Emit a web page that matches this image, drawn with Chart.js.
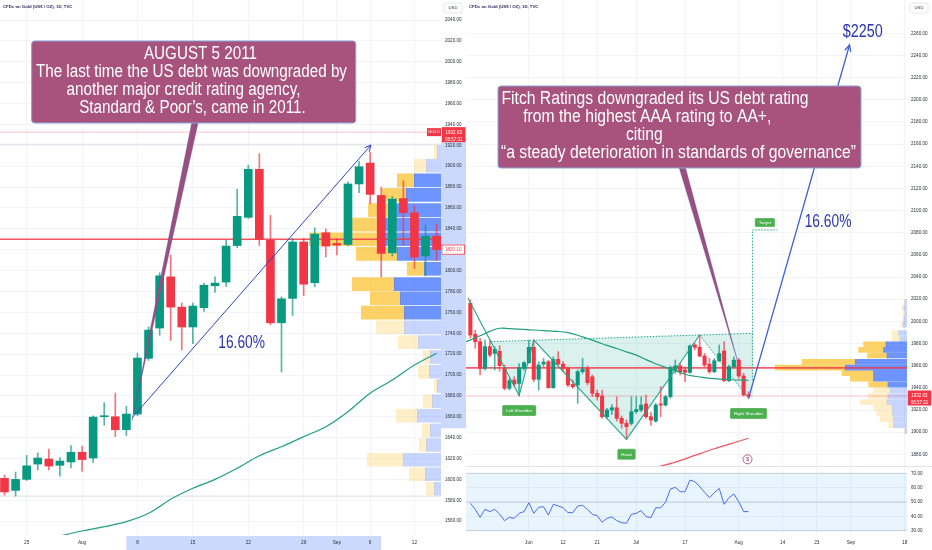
<!DOCTYPE html>
<html>
<head>
<meta charset="utf-8">
<title>Gold 2011 vs 2023</title>
<script src="https://cdn.jsdelivr.net/npm/chart.js@4.4.1/dist/chart.umd.min.js"></script>
<style>
  html, body { margin: 0; padding: 0; background: #fff; }
  #wrap { position: relative; width: 932px; height: 550px; overflow: hidden; }
  #wrap canvas { position: absolute; }
</style>
</head>
<body>
<div id="wrap">
  <canvas id="goldLeft" width="466" height="550" style="left:0;top:0"></canvas>
  <canvas id="goldRight" width="466" height="466" style="left:466px;top:0"></canvas>
  <canvas id="goldRsi" width="466" height="84" style="left:466px;top:466px"></canvas>
</div>
<script>
// ---------- 2011 panel (bar 0 = 21 Jul 2011) ----------
const leftDates = ['25', 'Aug', '8', '15', '22', '29', 'Sep', '6', '12'];
const leftDateIdx = [2, 7, 12, 17, 22, 27, 30, 33, 37];
const leftOpen = [1601, 1589.5, 1600, 1614.7, 1619.5, 1613.5, 1616.7, 1626, 1620.5, 1660,
  1660, 1647.6, 1662.6, 1716, 1745, 1794, 1765, 1746, 1764.5, 1785.5,
  1789, 1824, 1851, 1897, 1829, 1750, 1773.4, 1827.4, 1788.4, 1836.3,
  1826, 1825, 1883, 1903, 1872, 1817, 1869, 1855.4, 1814, 1833];
const leftHigh = [1604, 1607, 1623, 1625.5, 1629, 1621, 1632.5, 1632, 1661, 1673.5,
  1682.7, 1670, 1721, 1746, 1798, 1815, 1769, 1769, 1788, 1794,
  1829, 1878, 1901, 1912, 1853, 1775, 1831, 1831, 1841, 1840,
  1831, 1885, 1905, 1913, 1880, 1871, 1886, 1862, 1843.6, 1844.6];
const leftLow = [1585, 1584, 1599, 1609, 1609, 1603, 1611, 1608, 1616, 1652,
  1641, 1642, 1661, 1714, 1738, 1733, 1724, 1730, 1761, 1779,
  1784.5, 1822, 1850, 1824, 1748, 1703, 1757, 1776, 1784.5, 1813,
  1815, 1824, 1874.6, 1864, 1794, 1814, 1824.5, 1802, 1795, 1809.5];
const leftClose = [1588, 1600, 1613, 1620.5, 1612.8, 1617.6, 1626, 1619, 1659.7, 1661,
  1647.6, 1662.6, 1716.2, 1743, 1795, 1765, 1746, 1766, 1786, 1788,
  1823.5, 1852, 1897, 1830, 1750, 1773, 1827.4, 1787, 1835, 1823.5,
  1824.5, 1883, 1899.5, 1873, 1816.5, 1868.5, 1855.4, 1813, 1833, 1820.1];
const leftMaIdx = [5, 7, 9, 11, 13, 15, 17, 19, 21, 23, 25, 27, 29, 31, 33, 35, 37, 39];
const leftMaVal = [1545.8, 1550.6, 1554.7, 1559.5, 1567.5, 1581, 1591.5, 1600, 1610.6,
  1622.7, 1631.3, 1641, 1650.5, 1664.9, 1682.5, 1695.2, 1709.6, 1720.8];
const leftLevels = [1830, 1932.63, 1921, 1584];
const leftArrowIdx = [11.5, 33.08];
const leftArrowPrice = [1658.8, 1920.3];
const leftPriceTicks = [1560, 1580, 1600, 1620, 1640, 1660, 1680, 1700, 1720, 1740, 1760, 1780,
  1800, 1820, 1840, 1860, 1880, 1900, 1920, 1940, 1960, 1980, 2000, 2020, 2040];
// volume profile: row price, up volume, down volume, inside value area
const leftVpPrice = [1913.5, 1900.5, 1886.5, 1872.5, 1858, 1844, 1830, 1816, 1801.7, 1787,
  1773.5, 1759.8, 1745.7, 1731.5, 1717.3, 1703.2, 1689.5, 1675, 1661, 1647, 1633, 1618.8, 1605, 1591];
const leftVpUp = [3.7, 14.7, 26.7, 34.7, 46.7, 56.7, 61.7, 43.7, 16.7, 46.7,
  40.7, 36.7, 36.7, 22.7, 10.7, 11.7, 3.7, 8.7, 23.7, 10.7, 14.7, 37.7, 15.7, 6.7];
const leftVpDown = [3, 12, 17, 24, 26, 32, 70, 41, 17, 42,
  30, 43, 28, 20, 7, 11, 3, 9, 21, 8, 7, 36, 16, 8];
const leftVpInVA = [0, 0, 1, 1, 1, 1, 1, 1, 1, 1, 1, 1, 0, 0, 0, 0, 0, 0, 0, 0, 0, 0, 0, 0];

// ---------- 2023 panel (bar 0 = 1 Jun 2023) ----------
const rightFirst = -12;
const rightDates = ['Jun', '12', '21', 'Jul', '17', 'Aug', '14', '23', 'Sep', '18'];
const rightDateIdx = [0, 7, 14, 22, 32, 43, 52, 59, 66, 77];
const rightOpen = [2016.3, 1988.3, 1981.7, 1957.6, 1977.2, 1971.1, 1973, 1957.6, 1939.6, 1947.1,
  1944, 1957.6, 1962.7, 1976.6, 1947.7, 1961.5, 1963.6, 1940.2, 1965.7, 1961.5,
  1957.6, 1943.2, 1942.6, 1954.6, 1957.6, 1950, 1935, 1932.6, 1914, 1920,
  1922, 1912.5, 1908, 1908, 1918.5, 1920, 1925.5, 1914, 1910, 1925.5,
  1924.5, 1932, 1955.5, 1959.7, 1956.1, 1954, 1978.7, 1976.6, 1968.7, 1961.5,
  1954.6, 1964.5, 1973.3, 1946.5, 1959, 1965, 1950.7, 1933.8];
const rightHigh = [2019.3, 1992, 1984.7, 1983.2, 1983.2, 1977.2, 1978, 1960.6, 1948.6, 1950,
  1962, 1963.6, 1983.2, 1983.2, 1963.6, 1966.6, 1965, 1968, 1972.7, 1963.6,
  1959, 1947.1, 1956.1, 1966.6, 1959.7, 1951.6, 1938, 1938, 1921.5, 1925,
  1932, 1914.6, 1911, 1932, 1932, 1932, 1933.5, 1918, 1926, 1941,
  1933.5, 1959.7, 1965.2, 1962, 1959, 1978.7, 1980.2, 1987.7, 1971.1, 1966.6,
  1966.6, 1978.7, 1981.7, 1960.6, 1968, 1966.6, 1953, 1936.5];
const rightLow = [1985, 1975.7, 1951.6, 1956, 1968, 1956.1, 1955, 1938, 1938, 1941,
  1933, 1956, 1962, 1945.6, 1938, 1959, 1939.6, 1939.6, 1960.6, 1954.6,
  1941, 1939.6, 1926, 1953, 1942.6, 1932, 1929, 1912.5, 1912.5, 1916,
  1910, 1903.5, 1893.5, 1906.5, 1917, 1918.5, 1912.5, 1906, 1909, 1914,
  1923.5, 1930.5, 1953, 1951.6, 1945.6, 1953, 1974.2, 1968, 1959, 1953,
  1953.7, 1963.6, 1945.6, 1945.6, 1958.5, 1948.6, 1932.6, 1930.5];
const rightClose = [1987.7, 1981.7, 1957.6, 1977.2, 1969.6, 1974.8, 1960, 1939.6, 1946.5, 1943.5,
  1958.2, 1962.7, 1976.6, 1947.7, 1960.6, 1963.3, 1940.2, 1965.7, 1961.5, 1957.6,
  1942.6, 1941, 1954.6, 1957, 1944.7, 1935, 1932, 1914, 1920, 1922,
  1912.5, 1908, 1905, 1918.5, 1920.5, 1924.5, 1914, 1911, 1924.5, 1924.5,
  1932, 1958.5, 1959.7, 1954.6, 1954, 1977.8, 1976.6, 1968.7, 1960.6, 1954.6,
  1964.5, 1971, 1946.5, 1959, 1965, 1950.7, 1933.5, 1932.63];
const rightMaIdx = [-12.9, -10, -8, -6, -4, -2, 0, 2, 4, 6, 8, 10, 12, 14, 16, 18, 20, 22, 24,
  26, 28, 30, 32, 34, 36, 38, 40, 42, 45];
const rightMaVal = [1981.6, 1987, 1991, 1993.8, 1993.5, 1993, 1992.4, 1992, 1991.4, 1990.9,
  1989.8, 1987.5, 1984.5, 1981.5, 1978.3, 1975.5, 1972.5, 1969.5, 1965.5, 1961.8,
  1958.5, 1955.5, 1952.3, 1950.5, 1949.3, 1948.3, 1947.6, 1947.1, 1946.8];
const rightMa2Idx = [26, 30, 34, 38, 42, 45];
const rightMa2Val = [1868, 1873, 1879, 1885, 1890.5, 1894.5];
const rsiValues = [49.1, 44.9, 39.3, 44.9, 43.3, 44.9, 41.6, 37, 39.3, 38.6,
  42.1, 43.3, 49.5, 42.1, 46.3, 46.7, 40.9, 48.4, 47.2, 46,
  42.6, 42.6, 47.2, 47.7, 44.9, 41.4, 40.5, 35.9, 38.6, 39.6,
  37, 35.6, 35.2, 41.4, 42.1, 44, 39.8, 39.1, 46, 46,
  49.8, 59.1, 60.2, 57.2, 57.2, 65.3, 64.2, 60.7, 56.8, 53,
  56.5, 59.5, 48.4, 53, 55.6, 50.2, 43.3, 43.3];
const rightLevels = [1958, 1932.63];
const hsIdx = [-12.5, -2, 1, 20, 35, 45];
const hsPrice = [2021, 1933, 1983, 1893.5, 1987.7, 1930.5];
const neckIdx = [-7.8, 45.9];
const neckPrice = [1981.7, 1989.2];
const targetIdx = [45.8, 45.8, 50.9];
const targetPrice = [1947, 2082.5, 2082.5];
const rightArrowIdx = [45, 65.7];
const rightArrowPrice = [1930.5, 2249.4];
const rightPriceTicks = [1880, 1900, 1920, 1940, 1960, 1980, 2000, 2020, 2040, 2060, 2080,
  2100, 2120, 2140, 2160, 2180, 2200, 2220, 2240, 2260];
const rsiTicks = [30, 40, 50, 60, 70];
const rightVpPrice = [2017.5, 2012.3, 2007, 2002, 1997, 1989.5, 1984.2, 1979.3, 1974.3, 1969.2,
  1963.5, 1958.3, 1953.3, 1948.2, 1943, 1937.8, 1932.4, 1927.1, 1922, 1916.7, 1911.5, 1906.2, 1900.8];
const rightVpUp = [2, 3, 2, 3, 4, 8.4, 7, 21, 23.4, 20, 51.7, 61.7, 33.4, 33.4, 19,
  16.7, 19, 20, 15, 14.4, 13.4, 13.4, 1.5];
const rightVpDown = [1, 2, 2, 1, 2, 6.6, 8, 22.4, 25, 19.4, 53.3, 70, 31.6, 23.3, 19.4,
  16.7, 19.4, 26.7, 18.4, 15.6, 13.3, 5, 1.5];
const rightVpInVA = [0, 0, 0, 0, 0, 0, 0, 1, 1, 1, 1, 1, 1, 1, 1, 0, 0, 0, 0, 0, 0, 0, 0];

// ---------- look ----------
const LEFT_X = [-0.406, 39.395], LEFT_Y = [1546.75, 2059.2];
const RIGHT_X = [-12.889, 77.48], RIGHT_Y = [1869.47, 2290.05], RSI_Y = [27, 75.1];
const UP = '#089981', DOWN = '#f23645';
const GRID = '#f2f4f9', TXT = '#2a2e39', AXIS_HI = '#cbd9fc';
const SANS = '"Liberation Sans", "DejaVu Sans", sans-serif';
const NOTE_BG = '#a8537d', PCT_BLUE = '#2b34b0';

function candleSets(first, open, high, low, close, bodyW) {
  const idx = open.map((_, n) => first + n);
  const body = open.map((o, n) => close[n] >= o ? UP : DOWN);
  const wick = open.map((o, n) => close[n] >= o ? 'rgba(8,153,129,0.7)' : 'rgba(242,54,69,0.7)');
  return [
    { type: 'bar', data: idx.map((x, n) => ({ x: x, y: [open[n], close[n]] })), backgroundColor: body,
      barThickness: bodyW, grouped: false, minBarLength: 1, borderWidth: 0, order: 2 },
    { type: 'bar', data: idx.map((x, n) => ({ x: x, y: [low[n], high[n]] })), backgroundColor: wick,
      barThickness: 1, grouped: false, borderWidth: 0, order: 3 }
  ];
}

function profileSets(price, up, down, inVA, thick) {
  return [
    { type: 'bar', indexAxis: 'y', xAxisID: 'xv', grouped: false, barThickness: thick, borderWidth: 0, order: 6,
      data: price.map((p, n) => ({ y: p, x: [0, up[n]] })),
      backgroundColor: inVA.map(v => v ? 'rgba(41,98,255,0.68)' : 'rgba(41,98,255,0.26)') },
    { type: 'bar', indexAxis: 'y', xAxisID: 'xv', grouped: false, barThickness: thick, borderWidth: 0, order: 6,
      data: price.map((p, n) => ({ y: p, x: [up[n], up[n] + down[n]] })),
      backgroundColor: inVA.map(v => v ? 'rgba(251,192,45,0.72)' : 'rgba(251,192,45,0.26)') }
  ];
}

function line(xs, ys, color, width, extra) {
  return Object.assign({ type: 'line', data: xs.map((x, n) => ({ x: x, y: ys[n] })), borderColor: color,
    borderWidth: width, pointRadius: 0, fill: false, order: 1 }, extra || {});
}

function level(price, xr, color, width) {
  return line(xr, [price, price], color, width, { order: 4 });
}

function chartOptions(xr, yr, xTicks, xLabels, yTicks, showX) {
  return {
    responsive: false, animation: false, events: [], devicePixelRatio: 1,
    layout: { padding: 0 },
    plugins: { legend: { display: false }, tooltip: { enabled: false } },
    elements: { point: { radius: 0 } },
    scales: {
      x: {
        type: 'linear', min: xr[0], max: xr[1], offset: false,
        grid: { color: GRID, drawTicks: false, offset: false }, border: { display: false },
        afterBuildTicks: s => { s.ticks = xTicks.map(v => ({ value: v })); },
        ticks: { display: showX, autoSkip: false, maxRotation: 0, padding: 5, color: TXT,
          font: { size: 4.7, family: SANS }, callback: (v, n) => xLabels[n] },
        afterFit: s => { s.height = showX ? 15 : 0; s.paddingLeft = 0; s.paddingRight = 0; }
      },
      xv: { type: 'linear', axis: 'x', display: false, reverse: true, min: 0, max: 441, offset: false },
      y: {
        type: 'linear', position: 'right', min: yr[0], max: yr[1], offset: false,
        grid: { color: GRID, drawTicks: false, offset: false }, border: { display: false },
        afterBuildTicks: s => { s.ticks = yTicks.map(v => ({ value: v })); },
        ticks: { padding: 4, color: TXT, font: { size: 4.6, family: SANS }, callback: v => v.toFixed(2) },
        afterFit: s => { s.width = 25; s.paddingTop = 0; s.paddingBottom = 0; }
      }
    }
  };
}

// ---------- canvas helpers ----------
function rr(ctx, x, y, w, h, r) {
  ctx.beginPath();
  ctx.moveTo(x + r, y);
  ctx.arcTo(x + w, y, x + w, y + h, r);
  ctx.arcTo(x + w, y + h, x, y + h, r);
  ctx.arcTo(x, y + h, x, y, r);
  ctx.arcTo(x, y, x + w, y, r);
  ctx.closePath();
}

function toPx(chart, x, y) {
  return [chart.scales.x.getPixelForValue(x), chart.scales.y.getPixelForValue(y)];
}

// condensed look: draw the text squeezed horizontally to the width it has in the picture
function squeezeText(ctx, text, x, y, k) {
  ctx.save();
  ctx.translate(x, y);
  ctx.scale(k, 1);
  ctx.fillText(text, 0, 0);
  ctx.restore();
}

function arrowHead(chart, xs, ys, color, width) {
  const ctx = chart.ctx;
  const [x0, y0] = toPx(chart, xs[0], ys[0]);
  const [x1, y1] = toPx(chart, xs[1], ys[1]);
  const ang = Math.atan2(y1 - y0, x1 - x0), h = 7;
  ctx.save();
  ctx.strokeStyle = color; ctx.lineWidth = width;
  ctx.beginPath();
  ctx.moveTo(x1 - h * Math.cos(ang - 0.45), y1 - h * Math.sin(ang - 0.45));
  ctx.lineTo(x1, y1);
  ctx.lineTo(x1 - h * Math.cos(ang + 0.45), y1 - h * Math.sin(ang + 0.45));
  ctx.stroke();
  ctx.restore();
}

function bigText(chart, text, at, width, color) {
  const ctx = chart.ctx;
  const [x, y] = toPx(chart, at[0], at[1]);
  ctx.save();
  ctx.font = '18px ' + SANS;
  ctx.fillStyle = color; ctx.textAlign = 'center'; ctx.textBaseline = 'middle';
  squeezeText(ctx, text, x, y, width / ctx.measureText(text).width);
  ctx.restore();
}

function callout(chart, c) {
  const ctx = chart.ctx;
  const [x0, y0] = toPx(chart, c.box[0], c.box[1]);
  const [x1, y1] = toPx(chart, c.box[2], c.box[3]);
  const [sx] = toPx(chart, c.stem, c.box[3]);
  const [tx, ty] = toPx(chart, c.tip[0], c.tip[1]);
  ctx.save();
  ctx.beginPath();
  ctx.moveTo(sx - 3.2, y1 - 1);
  ctx.lineTo(sx + 3.2, y1 - 1);
  ctx.lineTo(tx, ty);
  ctx.closePath();
  ctx.fillStyle = '#9b4f80'; ctx.fill();
  ctx.strokeStyle = 'rgba(80,80,160,0.55)'; ctx.lineWidth = 0.6; ctx.stroke();
  rr(ctx, x0, y0, x1 - x0, y1 - y0, 3);
  ctx.fillStyle = NOTE_BG; ctx.fill();
  ctx.strokeStyle = '#88a3d4'; ctx.lineWidth = 1; ctx.stroke();
  ctx.font = '18px ' + SANS;
  const k = c.fitWidth / ctx.measureText(c.lines[c.fitLine]).width;
  ctx.fillStyle = '#fff'; ctx.textAlign = 'center'; ctx.textBaseline = 'middle';
  c.lines.forEach((t, n) => squeezeText(ctx, t, x0 + c.centers[n], y0 + 13.5 + 18 * n, k));
  ctx.restore();
}

function greenTag(ctx, cx, cy, text, h) {
  ctx.save();
  ctx.font = '4.4px ' + SANS;
  const w = ctx.measureText(text).width + 8;
  rr(ctx, cx - w / 2, cy - h / 2, w, h, 1.5);
  ctx.fillStyle = '#4caf50'; ctx.fill();
  ctx.strokeStyle = 'rgba(255,255,255,0.6)'; ctx.lineWidth = 0.5; ctx.stroke();
  ctx.fillStyle = '#fff'; ctx.textAlign = 'center'; ctx.textBaseline = 'middle';
  ctx.fillText(text, cx, cy + 0.3);
  ctx.restore();
}

function header(ctx, right) {
  ctx.save();
  ctx.font = 'bold 4.3px ' + SANS;
  ctx.fillStyle = '#2a2e5c'; ctx.textBaseline = 'middle'; ctx.textAlign = 'left';
  ctx.fillText('CFDs on Gold (US$ / OZ), 1D, TVC', 3, 7);
  rr(ctx, right + 3, 3, 18, 10, 2);
  ctx.fillStyle = '#fff'; ctx.fill();
  ctx.strokeStyle = '#dfe2ea'; ctx.lineWidth = 0.8; ctx.stroke();
  ctx.font = '4.2px ' + SANS;
  ctx.fillStyle = TXT; ctx.textAlign = 'center';
  ctx.fillText('USD', right + 12, 8.2);
  ctx.restore();
}

function priceTag(ctx, x, py, lines, fill, stroke, color) {
  ctx.save();
  const h = lines.length > 1 ? 15 : 10;
  ctx.fillStyle = fill; ctx.fillRect(x, py - 5, 23.5, h);
  if (stroke) { ctx.strokeStyle = stroke; ctx.lineWidth = 0.8; ctx.strokeRect(x + 0.4, py - 4.6, 22.7, h - 0.8); }
  ctx.font = '4.5px ' + SANS;
  ctx.fillStyle = color; ctx.textAlign = 'center'; ctx.textBaseline = 'middle';
  lines.forEach((t, n) => ctx.fillText(t, x + 11.75, py + 0.2 + 7 * n));
  ctx.restore();
}

function whiteBg(chart) {
  const ctx = chart.ctx;
  ctx.save(); ctx.fillStyle = '#fff'; ctx.fillRect(0, 0, chart.width, chart.height); ctx.restore();
}

// ---------- annotations ----------
const leftNote = {
  box: [2.45, 2019.9, 31.7, 1941.4], stem: 17.2, tip: [11.5, 1656],
  lines: ['AUGUST 5 2011', 'The last time the US debt was downgraded by',
    'another major credit rating agency,', 'Standard & Poor\u2019s, came in 2011.'],
  centers: [168.8, 159.8, 151.8, 160.8], fitLine: 1, fitWidth: 311
};
const rightNote = {
  box: [-6.33, 2212.43, 68.05, 2138.43], stem: 31.4, tip: [42.8, 1963.6],
  lines: ['Fitch Ratings downgraded its US debt rating', 'from the highest AAA rating to AA+,',
    'citing', '\u201ca steady deterioration in standards of governance\u201d'],
  centers: [157, 149.3, 146.3, 180.5], fitLine: 3, fitWidth: 355
};

const leftPlugin = {
  id: 'leftNotes',
  beforeDraw(chart) {
    whiteBg(chart);
    const ctx = chart.ctx, a = chart.chartArea;
    const [bx0] = toPx(chart, 11, 0), [bx1] = toPx(chart, 34, 0);
    const [, yt] = toPx(chart, 0, 1928), [, yb] = toPx(chart, 0, 1649);
    ctx.save();
    ctx.fillStyle = AXIS_HI;
    ctx.fillRect(bx0, a.bottom + 1, bx1 - bx0, 14);
    ctx.fillRect(a.right, yt, chart.width - a.right, yb - yt);
    ctx.restore();
  },
  afterDraw(chart) {
    const ctx = chart.ctx, a = chart.chartArea;
    arrowHead(chart, leftArrowIdx, leftArrowPrice, '#3344c0', 1);
    bigText(chart, '16.60%', [21.4, 1730.7], 46.7, PCT_BLUE);
    callout(chart, leftNote);
    header(ctx, a.right);
    const pyNow = chart.scales.y.getPixelForValue(1932.63);
    ctx.save();
    ctx.fillStyle = DOWN; ctx.fillRect(a.right - 14, pyNow - 4, 14, 8);
    ctx.font = '4.2px ' + SANS; ctx.fillStyle = '#fff'; ctx.textAlign = 'center'; ctx.textBaseline = 'middle';
    ctx.fillText('GOLD', a.right - 7, pyNow + 0.2);
    ctx.restore();
    priceTag(ctx, a.right + 1, pyNow, ['1932.63', '08:57:31'], DOWN, null, '#fff');
    priceTag(ctx, a.right + 0.5, chart.scales.y.getPixelForValue(1820.1), ['1820.10'], '#fff', DOWN, DOWN);
  }
};

const rightPlugin = {
  id: 'rightNotes',
  beforeDraw: whiteBg,
  afterDraw(chart) {
    const ctx = chart.ctx, a = chart.chartArea;
    arrowHead(chart, rightArrowIdx, rightArrowPrice, '#3d5fd9', 1.3);
    bigText(chart, '16.60%', [61.3, 2089.7], 46.7, PCT_BLUE);
    bigText(chart, '$2250', [68.4, 2260.7], 40, PCT_BLUE);
    callout(chart, rightNote);
    const names = [[1, 'Left Shoulder'], [3, 'Head'], [5, 'Right Shoulder']];
    names.forEach(([n, t]) => {
      const [x, y] = toPx(chart, hsIdx[n], hsPrice[n]);
      greenTag(ctx, x, y + 15, t, 11);
    });
    const [tx, ty] = toPx(chart, targetIdx[1], targetPrice[1]);
    greenTag(ctx, tx + 12.5, ty - 7.5, 'Target', 9);
    const [ex, ey] = toPx(chart, 44.8, 1875.5);
    ctx.save();
    ctx.beginPath(); ctx.arc(ex, ey, 4.5, 0, Math.PI * 2);
    ctx.fillStyle = '#fff'; ctx.fill();
    ctx.strokeStyle = '#a94f86'; ctx.lineWidth = 0.9; ctx.stroke();
    ctx.font = 'bold 5px ' + SANS; ctx.fillStyle = '#a94f86'; ctx.textAlign = 'center'; ctx.textBaseline = 'middle';
    ctx.fillText('$', ex, ey + 0.3);
    ctx.restore();
    header(ctx, a.right);
    priceTag(ctx, a.right + 0.7, chart.scales.y.getPixelForValue(1932.63) - 0.5, ['1932.63', '08:57:31'], DOWN, null, '#fff');
  }
};

const rsiPlugin = {
  id: 'rsiFrame',
  beforeDraw: whiteBg,
  afterDraw(chart) {
    const ctx = chart.ctx;
    ctx.save();
    ctx.strokeStyle = '#e0e3eb'; ctx.lineWidth = 1;
    ctx.beginPath(); ctx.moveTo(0, 0.5); ctx.lineTo(chart.width, 0.5); ctx.stroke();
    ctx.restore();
  }
};

// ---------- charts ----------
new Chart(document.getElementById('goldLeft'), {
  type: 'line',
  data: {
    datasets: [
      line(leftArrowIdx, leftArrowPrice, '#3344c0', 1, { order: 0 }),
      line(leftMaIdx, leftMaVal, '#1f9f7c', 1.2, { tension: 0.35 }),
      ...candleSets(0, leftOpen, leftHigh, leftLow, leftClose, 8),
      level(leftLevels[0], LEFT_X, 'rgba(242,54,69,0.85)', 1.6),
      level(leftLevels[1], LEFT_X, 'rgba(242,54,69,0.3)', 1),
      level(leftLevels[2], LEFT_X, '#dcdfe6', 1),
      level(leftLevels[3], LEFT_X, '#dcdfe6', 1),
      ...profileSets(leftVpPrice, leftVpUp, leftVpDown, leftVpInVA, 13)
    ]
  },
  options: chartOptions(LEFT_X, LEFT_Y, leftDateIdx, leftDates, leftPriceTicks, true),
  plugins: [leftPlugin]
});

const hsPts = hsIdx.map((x, n) => ({ x: x, y: hsPrice[n] }));
const hsShape = [{ x: neckIdx[0], y: neckPrice[0] }, ...hsPts.slice(1),
  { x: neckIdx[1], y: hsPrice[5] }, { x: neckIdx[1], y: neckPrice[1] }];

new Chart(document.getElementById('goldRight'), {
  type: 'line',
  data: {
    datasets: [
      line(rightArrowIdx, rightArrowPrice, '#3d5fd9', 1.3, { order: 0 }),
      line(hsIdx.slice(0, 5), hsPrice.slice(0, 5), '#22a585', 1.1),
      line(hsIdx.slice(4), hsPrice.slice(4), '#22a585', 1, { borderDash: [1.5, 1.5] }),
      line(neckIdx, neckPrice, '#22a585', 1, { borderDash: [1.5, 1.5] }),
      line(targetIdx, targetPrice, '#22a585', 1, { borderDash: [1.5, 1.5] }),
      line(rightMaIdx, rightMaVal, '#1f9f7c', 1.2, { tension: 0.35 }),
      line(rightMa2Idx, rightMa2Val, 'rgba(242,54,69,0.85)', 1.2, { tension: 0.3 }),
      ...candleSets(rightFirst, rightOpen, rightHigh, rightLow, rightClose, 3.4),
      level(rightLevels[0], RIGHT_X, 'rgba(242,54,69,0.8)', 1.6),
      level(rightLevels[1], RIGHT_X, 'rgba(242,54,69,0.3)', 1),
      ...profileSets(rightVpPrice, rightVpUp, rightVpDown, rightVpInVA, 5),
      { type: 'line', data: hsShape, borderWidth: 0, pointRadius: 0, fill: 'shape',
        backgroundColor: 'rgba(34,171,148,0.16)', order: 7 }
    ]
  },
  options: chartOptions(RIGHT_X, RIGHT_Y, rightDateIdx, rightDates, rightPriceTicks, false),
  plugins: [rightPlugin]
});

const rsiIdx = rsiValues.map((_, n) => rightFirst + n);
new Chart(document.getElementById('goldRsi'), {
  type: 'line',
  data: {
    datasets: [
      line(rsiIdx, rsiValues, '#4b6cf0', 1, { order: 0 }),
      line(RIGHT_X, [70, 70], 'rgba(149,152,161,0.35)', 1,
        { fill: '+1', backgroundColor: 'rgba(33,150,243,0.1)', order: 2 }),
      line(RIGHT_X, [30, 30], 'rgba(149,152,161,0.35)', 1, { order: 2 }),
      line(RIGHT_X, [50, 50], 'rgba(149,152,161,0.4)', 1, { order: 1 })
    ]
  },
  options: chartOptions(RIGHT_X, RSI_Y, rightDateIdx, rightDates, rsiTicks, true),
  plugins: [rsiPlugin]
});
</script>
</body>
</html>
